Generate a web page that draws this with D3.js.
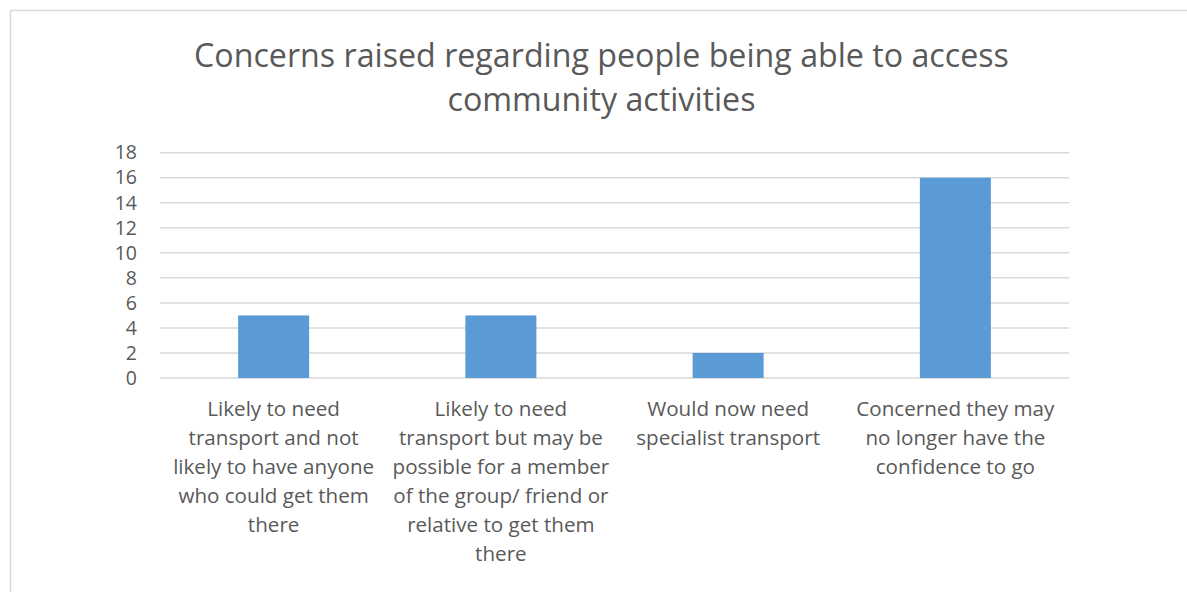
<!DOCTYPE html>
<html>
<head>
<meta charset="utf-8">
<script src="https://cdn.jsdelivr.net/npm/d3@7"></script>
<style>
  html, body { margin: 0; padding: 0; background: #fff; }
  svg { display: block; }
  text { font-family: "Open Sans", "Noto Sans", sans-serif; fill: #595959; }
</style>
</head>
<body>
<svg id="chart" width="1187" height="592"></svg>
<script>
// Survey responses: concerns about reaching community activities
const categories = [
  ["Likely to need", "transport and not", "likely to have anyone", "who could get them", "there"],
  ["Likely to need", "transport but may be", "possible for a member", "of the group/ friend or", "relative to get them", "there"],
  ["Would now need", "specialist transport"],
  ["Concerned they may", "no longer have the", "confidence to go"]
];
const values = [5, 5, 2, 16];
const yTicks = [0, 2, 4, 6, 8, 10, 12, 14, 16, 18];
const titleLines = ["Concerns raised regarding people being able to access", "community activities"];

const svg = d3.select("#chart");

// chart frame
svg.append("rect")
  .attr("x", 10.5).attr("y", 10.5)
  .attr("width", 1200).attr("height", 620)
  .attr("fill", "none").attr("stroke", "#D9D9D9").attr("stroke-width", 1.5);

const plot = { left: 160, right: 1069, top: 152.7, bottom: 378 };

const x = d3.scaleBand()
  .domain(d3.range(categories.length))
  .range([plot.left, plot.right])
  .paddingInner(0).paddingOuter(0);

const y = d3.scaleLinear()
  .domain([0, 18])
  .range([plot.bottom, plot.top]);

// horizontal gridlines
svg.append("g")
  .selectAll("line")
  .data(yTicks)
  .join("line")
  .attr("x1", plot.left).attr("x2", plot.right)
  .attr("y1", d => y(d)).attr("y2", d => y(d))
  .attr("stroke", "#D9D9D9").attr("stroke-width", 1.5);

// y-axis labels
const yAxis = d3.axisLeft(y).tickValues(yTicks).tickSize(0).tickPadding(0);
const gy = svg.append("g")
  .attr("transform", `translate(137,0)`)
  .call(yAxis);
gy.select(".domain").remove();
gy.selectAll("text")
  .attr("font-size", 19.5)
  .attr("font-family", "Open Sans, Noto Sans, sans-serif")
  .attr("fill", "#595959");

// bars
const barW = x.bandwidth() * 0.3125;
svg.append("g")
  .selectAll("rect")
  .data(values)
  .join("rect")
  .attr("x", (d, i) => x(i) + (x.bandwidth() - barW) / 2)
  .attr("width", barW)
  .attr("y", d => y(d))
  .attr("height", d => y(0) - y(d))
  .attr("fill", "#5B9BD5");

// category labels
const cat = svg.append("g")
  .selectAll("text")
  .data(categories)
  .join("text")
  .attr("text-anchor", "middle")
  .attr("font-size", 20.6);
cat.selectAll("tspan")
  .data((d, i) => d.map(line => ({ line, i })))
  .join("tspan")
  .attr("x", d => x(d.i) + x.bandwidth() / 2)
  .attr("y", (d, j) => 416 + j * 29)
  .text(d => d.line);

// title
svg.append("g")
  .selectAll("text")
  .data(titleLines)
  .join("text")
  .attr("text-anchor", "middle")
  .attr("x", 601.5)
  .attr("y", (d, i) => 66.5 + i * 44.5)
  .attr("font-size", 32.2)
  .text(d => d);
</script>
</body>
</html>
